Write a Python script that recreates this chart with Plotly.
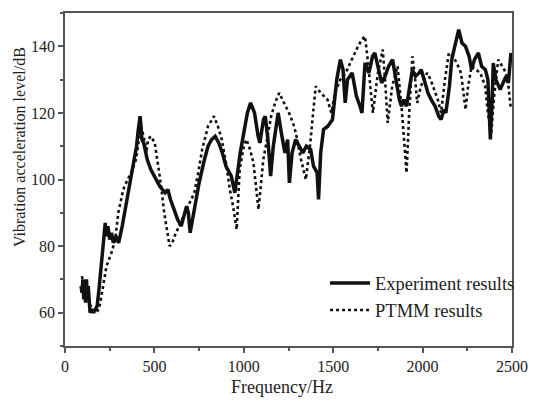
import plotly.graph_objects as go

# Experiment results (solid)
exp_f = [90, 95, 100, 105, 110, 115, 120, 125, 130, 135, 140, 150, 160, 170, 180, 190, 200, 210, 220, 225,
         230, 240, 250, 260, 270, 285, 300, 320, 350, 380, 400, 410, 420, 425, 430, 440, 460, 480, 500, 530,
         560, 575, 590, 610, 630, 650, 665, 680, 690, 700, 720, 750, 780, 800, 820, 840, 860, 880, 900, 930,
         950, 960, 980, 1000, 1020, 1038, 1060, 1080, 1090, 1110, 1120, 1135, 1150, 1165, 1180, 1192, 1210,
         1230, 1245, 1255, 1270, 1290, 1310, 1330, 1350, 1374, 1390, 1410, 1418, 1430, 1446, 1470, 1496,
         1520, 1540, 1555, 1567, 1580, 1606, 1630, 1650, 1661, 1678, 1700, 1720, 1733, 1750, 1771, 1790,
         1810, 1832, 1850, 1870, 1882, 1895, 1910, 1930, 1943, 1960, 1980, 1992, 2010, 2030, 2048, 2070,
         2090, 2103, 2120, 2130, 2150, 2163, 2180, 2202, 2220, 2240, 2260, 2274, 2290, 2312, 2330, 2351,
         2365, 2379, 2390, 2395, 2410, 2434, 2450, 2467, 2480, 2494]
exp_v = [68, 66, 70, 64, 69, 63, 70, 65, 68, 62, 60, 61, 60, 61, 62, 67, 72, 78, 84, 87,
         83, 86, 82, 84, 81, 83, 81, 86, 95, 103, 110, 115, 119, 116, 112, 111, 106, 103, 101, 98,
         96, 97, 94, 91, 88, 86, 89, 92, 90, 84, 90, 99, 106, 110, 112, 113, 111, 108, 104, 101,
         96, 100, 108, 114, 120, 123, 120, 113, 111, 118, 119, 112, 101, 110, 116, 120, 114,
         108, 112, 99, 108, 112, 110, 108, 110, 109, 104, 102, 94, 108, 115, 116, 118,
         130, 136, 133, 123, 130, 132, 125, 122, 120, 135, 132, 137, 138, 134, 129, 131,
         134, 136, 130, 124, 122, 124, 122, 128, 133, 131, 132, 133, 130, 126, 124, 122,
         119, 118, 121, 120, 128, 136, 140, 145, 141, 140, 137, 133, 136, 138, 134, 133,
         130, 112, 125, 135, 130, 127, 129, 131, 129, 138]

# PTMM results (dotted)
ptmm_f = [95, 100, 110, 120, 130, 150, 170, 190, 210, 232, 260, 281, 298, 326, 350, 370, 397, 425, 440,
          455, 464, 480, 502, 520, 535, 555, 585, 600, 613, 646, 680, 700, 723, 745, 767, 800, 833, 855,
          877, 900, 922, 940, 960, 977, 1000, 1015, 1035, 1054, 1070, 1082, 1095, 1109, 1130, 1153, 1175,
          1198, 1225, 1253, 1275, 1291, 1320, 1347, 1370, 1390, 1402, 1430, 1468, 1490, 1510, 1540, 1570,
          1595, 1620, 1639, 1660, 1678, 1695, 1722, 1750, 1777, 1790, 1805, 1830, 1860, 1885, 1900, 1910,
          1925, 1943, 1955, 1970, 1990, 2025, 2045, 2064, 2085, 2103, 2125, 2147, 2170, 2191, 2215, 2240,
          2255, 2274, 2300, 2323, 2350, 2365, 2384, 2400, 2423, 2445, 2467, 2480, 2494]
ptmm_v = [71, 69, 70, 66, 64, 61, 60, 61, 67, 74, 78, 82, 90, 97, 100, 102, 106, 116, 113,
          108, 112, 113, 111, 105, 99, 90, 80, 81, 83, 87, 91, 93, 96, 102, 109, 116, 119, 116,
          112, 105, 97, 92, 85, 103, 110, 112, 109, 105, 97, 91, 98, 106, 112, 119, 123,
          126, 123, 120, 117, 114, 106, 100, 110, 122, 128, 126, 124, 120, 126, 130, 132,
          135, 138, 140, 142, 143, 135, 120, 132, 139, 130, 117, 128, 134, 120, 108, 102,
          120, 137, 132, 123, 128, 132, 130, 127, 124, 120, 130, 138, 137, 135, 132, 121,
          128, 134, 133, 132, 128, 120, 114, 125, 136, 134, 132, 128, 121]

x_ticks = [0, 500, 1000, 1500, 2000, 2500]
y_ticks = [60, 80, 100, 120, 140]
x_title = "Frequency/Hz"
y_title = "Vibration acceleration level/dB"

font_family = "Liberation Serif, Times New Roman, serif"
axis_col = "#555555"
txt_col = "#222222"

fig = go.Figure()
fig.add_trace(go.Scatter(x=exp_f, y=exp_v, mode="lines", name="Experiment results",
                         line=dict(color="#111111", width=3.5)))
fig.add_trace(go.Scatter(x=ptmm_f, y=ptmm_v, mode="lines", name="PTMM results",
                         line=dict(color="#111111", width=2.6, dash="dot")))

fig.update_layout(
    width=539, height=403,
    margin=dict(l=65, r=19, t=11, b=57),
    paper_bgcolor="white", plot_bgcolor="white",
    font=dict(family=font_family, size=16, color=txt_col),
    showlegend=True,
    legend=dict(x=1.018, xanchor="right", y=0.05, yanchor="bottom",
                bgcolor="rgba(0,0,0,0)", font=dict(size=18.5),
                itemwidth=40, tracegroupgap=0),
)
fig.update_xaxes(
    range=[0, 2500], tickvals=x_ticks, ticks="outside", ticklen=5, tickwidth=1.5,
    tickcolor=axis_col, showline=True, linecolor=axis_col, linewidth=1.8, mirror=True,
    showgrid=False, zeroline=False, tickfont=dict(size=16),
    minor=dict(dtick=250, ticks="outside", ticklen=3, tickcolor=axis_col, showgrid=False),
)
fig.update_yaxes(
    range=[50, 150], tickvals=y_ticks, ticks="outside", ticklen=5, tickwidth=1.5,
    tickcolor=axis_col, showline=True, linecolor=axis_col, linewidth=1.8, mirror=True,
    showgrid=False, zeroline=False, tickfont=dict(size=16),
    minor=dict(dtick=10, ticks="outside", ticklen=3, tickcolor=axis_col, showgrid=False),
)
fig.add_annotation(text=x_title, xref="paper", yref="paper", x=(286 - 65) / 455,
                   y=-(387 - 346) / 335, xanchor="center", yanchor="middle",
                   showarrow=False, font=dict(size=18, color=txt_col))
fig.add_annotation(text=y_title, xref="paper", yref="paper", x=-(65 - 18) / 455,
                   y=(346 - 146) / 335, xanchor="center", yanchor="middle", textangle=-90,
                   showarrow=False, font=dict(size=16, color=txt_col))

fig.write_html("out.html")
